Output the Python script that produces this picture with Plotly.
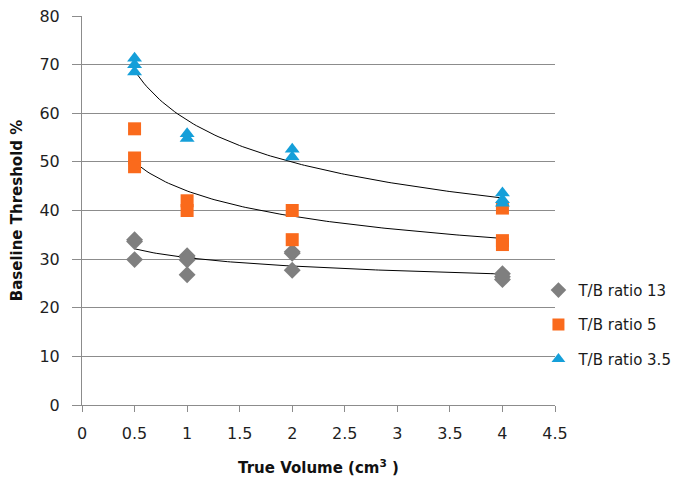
import numpy as np
import plotly.graph_objects as go

# Data
x_13 = [0.5, 0.5, 0.5, 1, 1, 1, 1, 2, 2, 2, 4, 4, 4]
y_13 = [34.0, 33.6, 29.9, 30.7, 30.4, 29.8, 26.8, 31.5, 31.2, 27.7, 27.0, 26.4, 25.8]

x_5 = [0.5, 0.5, 0.5, 1, 1, 2, 2, 4, 4, 4]
y_5 = [56.8, 50.8, 49.0, 42.0, 40.0, 40.0, 34.0, 40.5, 33.8, 33.0]

x_35 = [0.5, 0.5, 0.5, 1, 1, 2, 2, 4, 4, 4]
y_35 = [71.3, 70.0, 68.5, 55.8, 54.8, 52.6, 51.0, 43.6, 42.2, 41.5]

series_names = ["T/B ratio 13", "T/B ratio 5", "T/B ratio 3.5"]
colors = ["#7F7F7F", "#FA6A1C", "#159FD9"]
symbols = ["diamond", "square", "triangle-up"]

x_ticks = [0, 0.5, 1, 1.5, 2, 2.5, 3, 3.5, 4, 4.5]
y_ticks = [0, 10, 20, 30, 40, 50, 60, 70, 80]

fig = go.Figure()

data = [(x_13, y_13), (x_5, y_5), (x_35, y_35)]
font_family = "'DejaVu Sans', sans-serif"

# power trendlines (least squares in log-log space)
for (xs, ys) in data:
    xs_a = np.array(xs, dtype=float)
    ys_a = np.array(ys, dtype=float)
    b, ln_a = np.polyfit(np.log(xs_a), np.log(ys_a), 1)
    xf = np.linspace(xs_a.min(), xs_a.max(), 120)
    yf = np.exp(ln_a) * xf ** b
    fig.add_trace(go.Scatter(x=xf, y=yf, mode="lines",
                             line=dict(color="black", width=1),
                             showlegend=False, hoverinfo="skip"))

for i, ((xs, ys), name, c, s) in enumerate(zip(data, series_names, colors, symbols)):
    fig.add_trace(go.Scatter(x=xs, y=ys, mode="markers", name=name,
                             legendgroup=f"g{i}",
                             marker=dict(color=c, symbol=s, size=13,
                                         line=dict(width=0))))

fig.update_layout(
    width=685, height=469,
    paper_bgcolor="white", plot_bgcolor="white",
    margin=dict(l=74, r=138, t=8, b=72, autoexpand=False),
    font=dict(family=font_family, size=15, color="#1f1f1f"),
    legend=dict(x=0.965, y=0.206, xanchor="left", yanchor="middle",
                font=dict(size=15, color="#1a1a1a"),
                itemsizing="constant", tracegroupgap=12, itemwidth=30,
                bgcolor="rgba(0,0,0,0)"),
    showlegend=True,
)

fig.update_xaxes(
    range=[0, 4.5], tickvals=x_ticks, ticktext=[str(v) for v in x_ticks],
    showgrid=False, zeroline=False, automargin=False,
    showline=True, linecolor="#8c8c8c", linewidth=1,
    ticks="outside", ticklen=6, tickcolor="#8c8c8c",
    ticklabelstandoff=8, ticklabeloverflow="allow",
    tickfont=dict(size=16, color="#1f1f1f"),
    title=dict(text="<b>True Volume (cm<sup>3</sup> )</b>",
               font=dict(size=15, color="#111111"), standoff=24),
)
fig.update_yaxes(
    range=[0, 80], tickvals=y_ticks,
    showgrid=True, gridcolor="#8c8c8c", gridwidth=1,
    zeroline=False, automargin=False,
    showline=True, linecolor="#8c8c8c", linewidth=1,
    ticks="outside", ticklen=9, tickcolor="#8c8c8c",
    ticklabelstandoff=9, ticklabeloverflow="allow",
    tickfont=dict(size=16, color="#1f1f1f"),
    title=dict(text="<b>Baseline Threshold %</b>",
               font=dict(size=15, color="#111111"), standoff=19),
)

fig.write_html("out.html")
